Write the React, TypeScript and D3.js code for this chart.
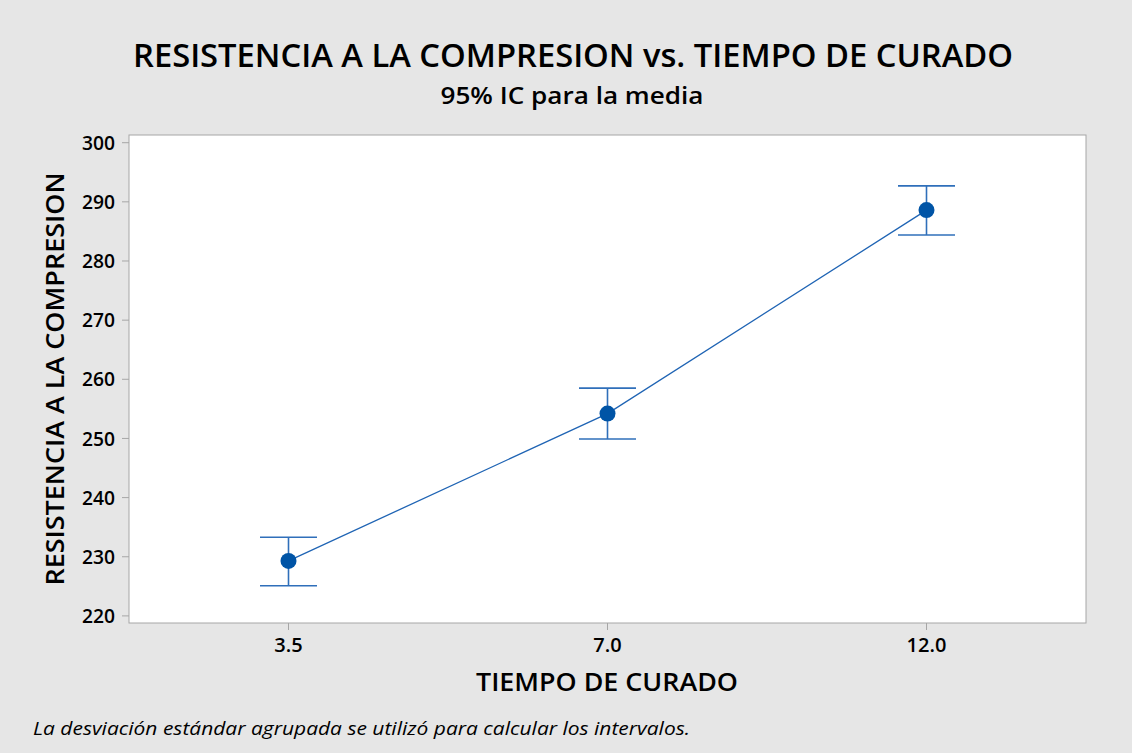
import React, { useEffect } from "react";
import * as d3 from "d3";

const categories = ["3.5", "7.0", "12.0"];
const means = [229.3, 254.2, 288.6];
const lower = [225.1, 249.9, 284.4];
const upper = [233.3, 258.5, 292.7];
const yTicks = [220, 230, 240, 250, 260, 270, 280, 290, 300];

const W = 1132;
const H = 753;
const M = { left: 129, right: 1086, top: 135, bottom: 623 };

export default function App() {
  useEffect(() => {
    document.body.style.margin = "0";
  }, []);
  const x = d3.scalePoint<string>().domain(categories).range([M.left, M.right]).padding(0.5);
  const y = d3.scaleLinear().domain([218.8, 301.3]).range([M.bottom, M.top]);
  const pts = categories.map((c, i) => ({ c, m: means[i], lo: lower[i], hi: upper[i] }));
  const line = d3
    .line<{ c: string; m: number }>()
    .x((d) => x(d.c) as number)
    .y((d) => y(d.m));
  const font = "'Open Sans', 'Noto Sans', sans-serif";
  const cap = 28.5;
  return (
    <svg width={W} height={H} style={{ display: "block", position: "absolute", left: 0, top: 0 }} fontFamily={font}>
      <rect x={0} y={0} width={W} height={H} fill="#e6e6e6" />
      <rect x={M.left} y={M.top} width={M.right - M.left} height={M.bottom - M.top} fill="#ffffff" stroke="#a6a6a6" strokeWidth={1} />
      {/* Title */}
      <text x={573} y={67} textAnchor="middle" fontSize={32} fontWeight={600} fill="#000" textLength={880} lengthAdjust="spacingAndGlyphs">
        RESISTENCIA A LA COMPRESION vs. TIEMPO DE CURADO
      </text>
      <text x={572} y={104} textAnchor="middle" fontSize={24} fontWeight={600} fill="#000" textLength={263} lengthAdjust="spacingAndGlyphs">
        95% IC para la media
      </text>
      {/* Y axis */}
      {yTicks.map((t) => (
        <g key={t}>
          <line x1={M.left - 7} x2={M.left} y1={y(t)} y2={y(t)} stroke="#a6a6a6" />
          <text x={M.left - 14} y={y(t)} dy="0.36em" textAnchor="end" fontSize={20} fontWeight={600} fill="#000" textLength={33} lengthAdjust="spacingAndGlyphs">
            {t}
          </text>
        </g>
      ))}
      {/* X axis */}
      {categories.map((c) => (
        <g key={c}>
          <line x1={x(c)} x2={x(c)} y1={M.bottom} y2={M.bottom + 7} stroke="#a6a6a6" />
          <text x={x(c)} y={652} textAnchor="middle" fontSize={20} fontWeight={600} fill="#000">
            {c}
          </text>
        </g>
      ))}
      <text x={607} y={691} textAnchor="middle" fontSize={26} fontWeight={600} fill="#000" textLength={262} lengthAdjust="spacingAndGlyphs">
        TIEMPO DE CURADO
      </text>
      <text
        transform={`translate(64, ${(M.top + M.bottom) / 2}) rotate(-90)`}
        textAnchor="middle"
        fontSize={26}
        fontWeight={600}
        fill="#000"
        textLength={413}
        lengthAdjust="spacingAndGlyphs"
      >
        RESISTENCIA A LA COMPRESION
      </text>
      {/* Connecting line */}
      <path d={line(pts) || ""} fill="none" stroke="#1f64b4" strokeWidth={1.3} />
      {/* Error bars */}
      {pts.map((p) => {
        const cx = x(p.c) as number;
        return (
          <g key={p.c} stroke="#2f6fba" strokeWidth={1.6}>
            <line x1={cx} x2={cx} y1={y(p.hi)} y2={y(p.lo)} />
            <line x1={cx - cap} x2={cx + cap} y1={y(p.hi)} y2={y(p.hi)} />
            <line x1={cx - cap} x2={cx + cap} y1={y(p.lo)} y2={y(p.lo)} />
          </g>
        );
      })}
      {pts.map((p) => (
        <circle key={p.c} cx={x(p.c) as number} cy={y(p.m)} r={8} fill="#0054a6" />
      ))}
      <text x={33} y={735} fontSize={19} fontStyle="italic" fill="#000" textLength={657} lengthAdjust="spacingAndGlyphs">
        La desviación estándar agrupada se utilizó para calcular los intervalos.
      </text>
    </svg>
  );
}
